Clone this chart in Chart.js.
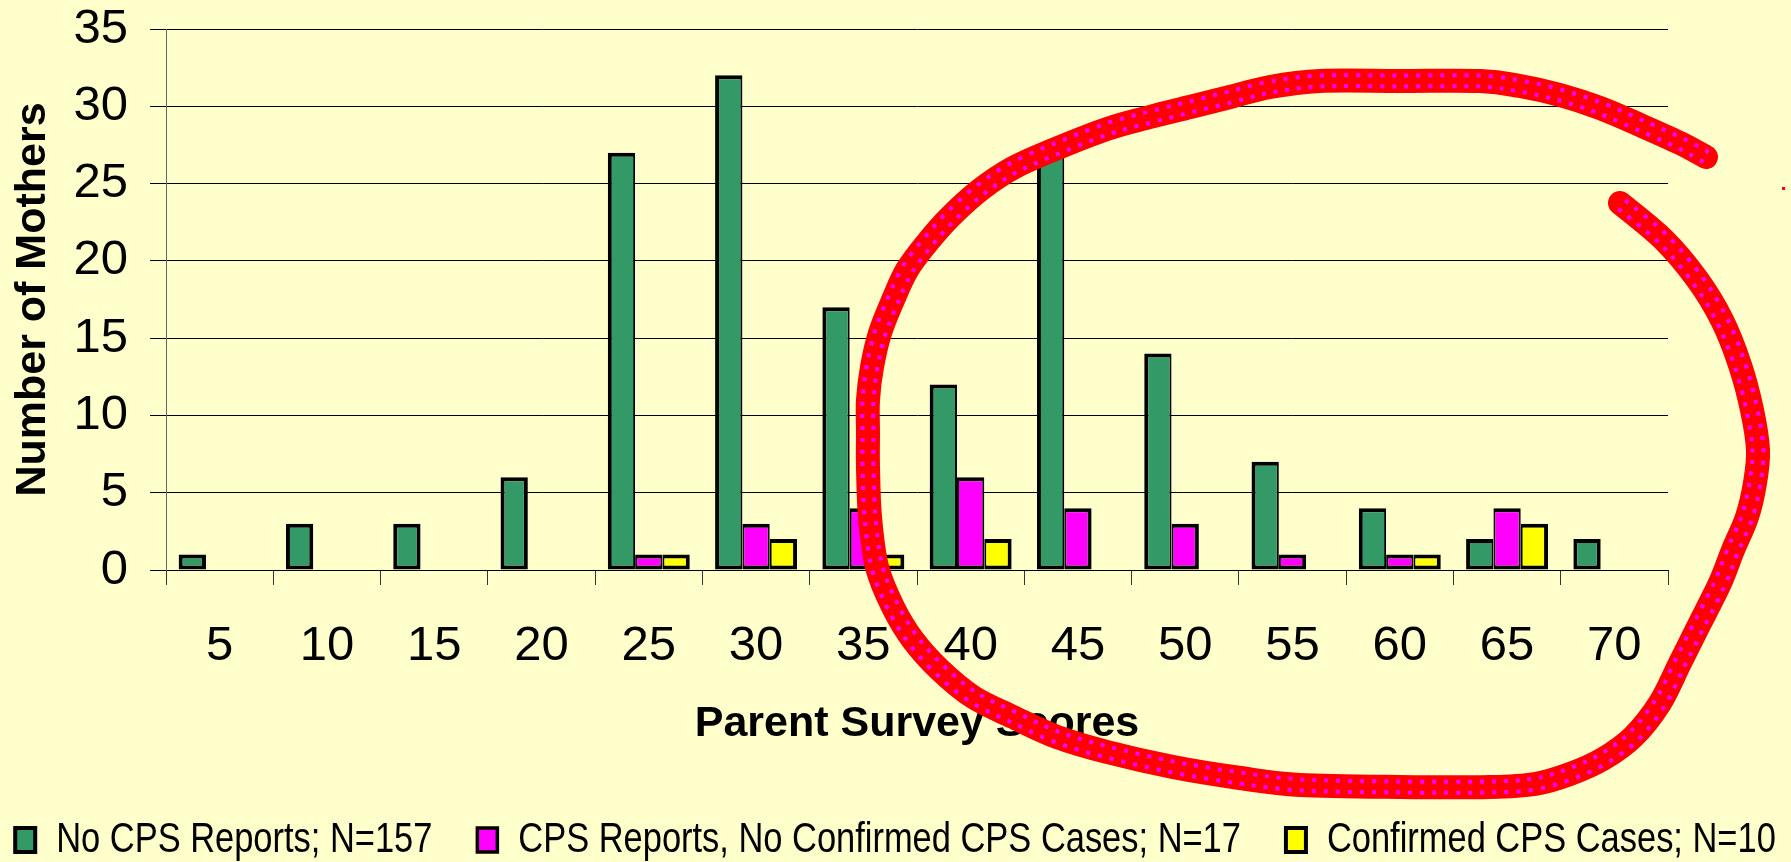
<!DOCTYPE html>
<html>
<head>
<meta charset="utf-8">
<script src="https://cdn.jsdelivr.net/npm/chart.js@4.4.1/dist/chart.umd.min.js"></script>
<style>
  html, body { margin: 0; padding: 0; background: #FFFFCC; }
  #wrap { width: 1791px; height: 862px; }
  canvas { display: block; }
</style>
</head>
<body>
<div id="wrap"><canvas id="c" width="1791" height="862"></canvas></div>
<script>
// ---- data ----
const categories = ['5', '10', '15', '20', '25', '30', '35', '40', '45', '50', '55', '60', '65', '70'];
const noCpsReports = [1, 3, 3, 6, 27, 32, 17, 12, 27, 14, 7, 4, 2, 2];
const cpsReportsNoConfirmed = [null, null, null, null, 1, 3, 4, 6, 4, 3, 1, 1, 4, null];
const confirmedCpsCases = [null, null, null, null, 1, 2, 1, 2, null, null, null, 1, 3, null];
const seriesLabels = ['No CPS Reports; N=157', 'CPS Reports, No Confirmed CPS Cases; N=17', 'Confirmed CPS Cases; N=10'];
const yAxisMin = 0, yAxisMax = 35, yAxisStep = 5;
const xTitle = 'Parent Survey Scores';
const yTitle = 'Number of Mothers';

// ---- styling ----
const seriesColors = ['#339966', '#FF00FF', '#FFFF00'];
const allSeries = [noCpsReports, cpsReportsNoConfirmed, confirmedCpsCases];
const BG = '#FFFFCC';
const FAMILY = "'Liberation Sans', Arial, sans-serif";
const xTickFont = { family: FAMILY, size: 49, lineHeight: 1 };
const yTickFont = { family: FAMILY, size: 49, lineHeight: 0.1 };
const titleFont = { family: FAMILY, size: 43, weight: 'bold', lineHeight: 1.2 };
const legendFont = { family: "'Liberation Sans Narrow', 'Liberation Sans', Arial, sans-serif", size: 42 };
const SIDE = 40; // extra room so the legend fits on one row
const BAR_BORDER = 4;

// The legend uses an Arial-Narrow look; no narrow face is installed, so
// text in that family is condensed horizontally when measured and drawn.
const NARROW = 0.82;
(function () {
  const P = CanvasRenderingContext2D.prototype;
  const origMeasure = P.measureText, origFill = P.fillText;
  P.measureText = function (t) {
    const m = origMeasure.call(this, t);
    if (this.font.indexOf('Narrow') < 0) return m;
    return {
      width: m.width * NARROW,
      actualBoundingBoxAscent: m.actualBoundingBoxAscent,
      actualBoundingBoxDescent: m.actualBoundingBoxDescent,
      actualBoundingBoxLeft: m.actualBoundingBoxLeft * NARROW,
      actualBoundingBoxRight: m.actualBoundingBoxRight * NARROW
    };
  };
  P.fillText = function (t, x, y, mw) {
    if (this.font.indexOf('Narrow') < 0) {
      return mw === undefined ? origFill.call(this, t, x, y) : origFill.call(this, t, x, y, mw);
    }
    this.save();
    this.translate(x, y);
    this.scale(NARROW, 1);
    origFill.call(this, t, 0, 0);
    this.restore();
  };
})();

// red hand-drawn annotation (overlay, canvas pixels)
const annotationStroke = [
  [1706,157],[1680,143],[1640,125],[1600,108],[1560,95],[1520,86],[1480,81],[1400,81],[1320,81],
  [1270,87],[1230,97],[1190,107],[1150,117],[1107,129],[1053,150],[1013,168],[980,190],[950,217],
  [927,243],[907,270],[893,300],[880,333],[872,367],[868,400],[868,433],[868,467],[870,517],
  [877,567],[893,607],[913,640],[940,670],[973,697],[1013,717],[1057,737],[1107,752],[1173,767],
  [1240,778],[1300,785],[1400,787],[1490,787],[1535,784],[1570,774],[1603,759],[1633,737],[1660,703],
  [1680,663],[1700,623],[1720,583],[1733,550],[1747,517],[1755,483],[1758,450],[1752,410],
  [1740,365],[1722,320],[1697,279],[1663,239],[1620,203]
];

const bgPlugin = {
  id: 'bg',
  beforeDraw(chart) {
    const c = chart.ctx;
    c.save(); c.fillStyle = BG; c.fillRect(0, 0, chart.width, chart.height); c.restore();
  }
};

const annotationPlugin = {
  id: 'circleNote',
  afterDraw(chart) {
    const ctx = chart.ctx;
    const pts = annotationStroke;
    const path = new Path2D();
    path.moveTo(pts[0][0], pts[0][1]);
    for (let i = 0; i < pts.length - 1; i++) {
      const p0 = pts[i - 1] || pts[i], p1 = pts[i], p2 = pts[i + 1], p3 = pts[i + 2] || pts[i + 1];
      path.bezierCurveTo(
        p1[0] + (p2[0] - p0[0]) / 6, p1[1] + (p2[1] - p0[1]) / 6,
        p2[0] - (p3[0] - p1[0]) / 6, p2[1] - (p3[1] - p1[1]) / 6,
        p2[0], p2[1]);
    }
    ctx.save();
    ctx.lineJoin = 'round'; ctx.lineCap = 'round';
    ctx.strokeStyle = '#FF0000'; ctx.lineWidth = 24; ctx.stroke(path);
    ctx.lineCap = 'butt'; ctx.setLineDash([4, 8]);
    ctx.strokeStyle = '#FF00FF'; ctx.lineWidth = 15; ctx.stroke(path);
    ctx.setLineDash([]);
    ctx.strokeStyle = '#FF0000'; ctx.lineWidth = 7; ctx.stroke(path);
    ctx.fillStyle = '#FF0000'; ctx.fillRect(1782, 187, 3, 3);
    ctx.restore();
  }
};

// outline: full width on outer edges, half on edges shared with a neighbouring bar
function barBorder(ctx) {
  const d = ctx.datasetIndex, i = ctx.dataIndex;
  if (i === undefined) return BAR_BORDER;
  const hasNext = d < allSeries.length - 1 && allSeries[d + 1][i] != null;
  const hasPrev = d > 0 && allSeries[d - 1][i] != null;
  const half = BAR_BORDER / 2;
  return { top: BAR_BORDER, bottom: BAR_BORDER, left: hasPrev ? half : BAR_BORDER, right: hasNext ? half : BAR_BORDER };
}

const datasets = allSeries.map((vals, k) => ({
  label: seriesLabels[k],
  data: vals,
  backgroundColor: seriesColors[k],
  borderColor: '#000000',
  borderWidth: barBorder,
  borderSkipped: false,
  inflateAmount: 0,
  categoryPercentage: 0.764,
  barPercentage: 1.0,
  yAxisID: 'y'
}));

new Chart(document.getElementById('c'), {
  type: 'bar',
  data: { labels: categories, datasets },
  plugins: [bgPlugin, annotationPlugin],
  options: {
    responsive: false,
    animation: false,
    devicePixelRatio: 1,
    layout: { padding: { top: 29, left: -SIDE, right: -SIDE, bottom: -9 } },
    plugins: {
      tooltip: { enabled: false },
      legend: {
        position: 'bottom',
        align: 'center',
        labels: {
          color: '#000',
          font: legendFont,
          boxWidth: 20,
          boxHeight: 24,
          padding: 45
        }
      }
    },
    scales: {
      x: {
        offset: true,
        grid: { display: true, drawOnChartArea: false, drawTicks: true, tickLength: 15, color: '#333', offset: true },
        border: { display: true, color: '#000', width: 1 },
        ticks: { color: '#000', font: xTickFont, padding: 37, maxRotation: 0, autoSkip: false },
        title: { display: true, text: xTitle, color: '#000', font: titleFont, padding: { top: 0, bottom: 24 } },
        afterFit(s) { s.height = 204; }
      },
      y: {
        position: 'left',
        min: yAxisMin, max: yAxisMax,
        ticks: { stepSize: yAxisStep, color: '#000', font: yTickFont, padding: 22 },
        grid: { color: '#000', lineWidth: 1, tickLength: 16, drawTicks: true },
        border: { display: true, color: '#666', width: 1 },
        title: { display: true, text: yTitle, color: '#000', font: titleFont, padding: { top: 7 + SIDE, bottom: 0 } },
        afterFit(s) { s.width = 166 + SIDE; }
      },
      ySpacer: {
        type: 'linear',
        position: 'right',
        display: true,
        grid: { display: false, drawTicks: false },
        border: { display: false },
        ticks: { display: false },
        title: { display: false },
        afterFit(s) { s.width = 123 + SIDE; }
      }
    }
  }
});
</script>
</body>
</html>
